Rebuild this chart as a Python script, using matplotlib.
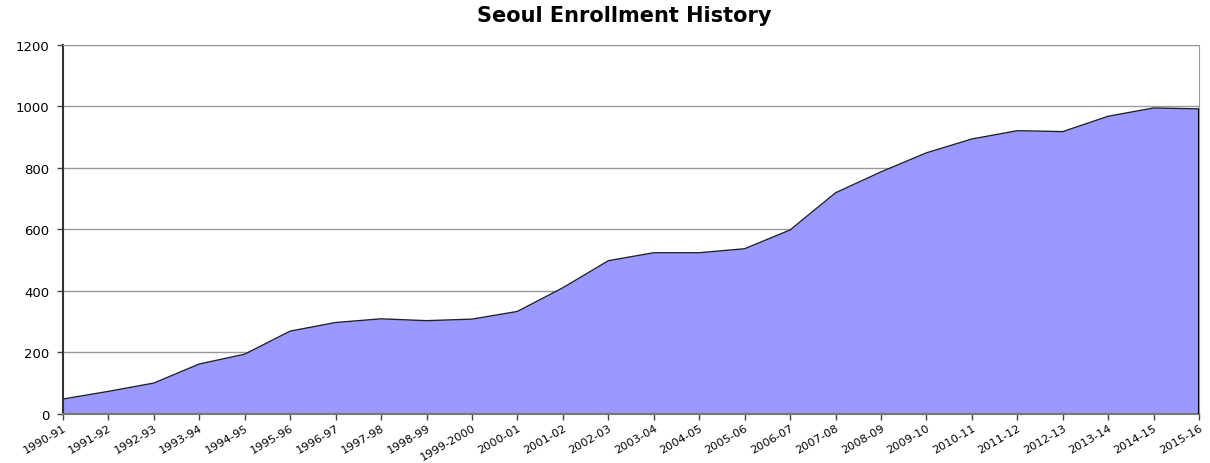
#!/usr/bin/env python3
"""Seoul enrollment history as a filled area chart."""

import matplotlib

matplotlib.use("Agg")
import matplotlib.pyplot as plt
import numpy as np

school_years = [
    "1990-91", "1991-92", "1992-93", "1993-94", "1994-95", "1995-96",
    "1996-97", "1997-98", "1998-99", "1999-2000", "2000-01", "2001-02",
    "2002-03", "2003-04", "2004-05", "2005-06", "2006-07", "2007-08",
    "2008-09", "2009-10", "2010-11", "2011-12", "2012-13", "2013-14",
    "2014-15", "2015-16",
]
enrollment = [
    48, 73, 100, 162, 194, 269, 297, 309, 303, 308, 333, 410,
    498, 524, 524, 537, 598, 719, 787, 849, 894, 921, 918, 968,
    995, 992,
]
y_ticks = [0, 200, 400, 600, 800, 1000, 1200]

plt.rcParams["font.family"] = ["DejaVu Sans"]

fig = plt.figure(figsize=(12.1, 4.64), dpi=100)
ax = fig.add_axes([0.052, 0.106, 0.939, 0.795])

x = np.arange(len(school_years))
ax.fill_between(x, enrollment, 0, color="#9999ff", linewidth=0, zorder=2)
ax.plot(x, enrollment, color="#222222", linewidth=1.0, zorder=3)
ax.vlines(x[-1], 0, enrollment[-1], color="black", linewidth=1.5, zorder=3)

ax.set_xlim(x[0], x[-1])
ax.set_ylim(0, 1200)
ax.set_yticks(y_ticks)
ax.set_yticklabels([str(v) for v in y_ticks], fontsize=9.5)
ax.set_xticks(x)
ax.set_xticklabels(school_years, rotation=30, ha="right", rotation_mode="anchor",
                   fontsize=8.2)
ax.tick_params(axis="x", length=4, width=1, color="#444444", pad=2)
ax.tick_params(axis="y", length=4, width=1, color="#444444", pad=6)

ax.grid(axis="y", color="#999999", linewidth=1.0, zorder=1)
ax.set_axisbelow(True)
ax.spines["left"].set_color("#333333")
ax.spines["left"].set_linewidth(1.5)
ax.spines["bottom"].set_color("#777777")
ax.spines["bottom"].set_linewidth(1.5)
ax.spines["top"].set_color("#999999")
ax.spines["right"].set_color("#999999")

fig.text(0.516, 0.965, "Seoul Enrollment History", ha="center", va="center",
         fontsize=15, fontweight="bold")

fig.savefig("out.png", dpi=100)
